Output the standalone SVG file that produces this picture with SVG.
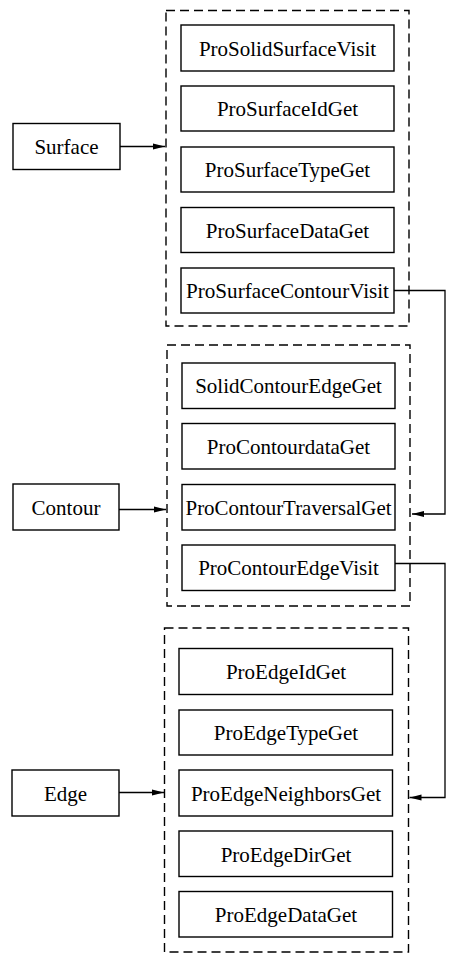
<svg xmlns="http://www.w3.org/2000/svg" width="453" height="954" viewBox="0 0 453 954">
<style>
.b{fill:#fff;stroke:#000;stroke-width:1.4}
.g{fill:none;stroke:#000;stroke-width:1.4;stroke-dasharray:9 5}
.c{fill:none;stroke:#000;stroke-width:1.3}
text{font-family:"Liberation Serif","Times New Roman",serif;font-size:21px;text-anchor:middle;fill:#000}
</style>
<defs>
<marker id="ah" markerWidth="12" markerHeight="8" refX="12" refY="4" orient="auto" markerUnits="userSpaceOnUse">
<path d="M0,1 L12,4 L0,7 Z" fill="#000"/>
</marker>
</defs>
<g id="group-surface"><rect class="g" x="166" y="10.5" width="243" height="315.5"/></g>
<g id="group-contour"><rect class="g" x="167" y="345" width="243" height="261"/></g>
<g id="group-edge"><rect class="g" x="164.5" y="628" width="244" height="324"/></g>

<g id="surface"><rect class="b" x="13" y="123.5" width="107" height="46"/><text x="66.5" y="154">Surface</text></g>
<g id="contour"><rect class="b" x="13" y="484" width="106" height="46"/><text x="66" y="514.5">Contour</text></g>
<g id="edge"><rect class="b" x="12" y="770" width="107" height="46"/><text x="65.5" y="800.5">Edge</text></g>

<g id="n1"><rect class="b" x="181" y="25" width="213" height="46"/><text x="287.5" y="55.5">ProSolidSurfaceVisit</text></g>
<g id="n2"><rect class="b" x="181" y="86" width="213" height="45"/><text x="287.5" y="116">ProSurfaceIdGet</text></g>
<g id="n3"><rect class="b" x="181" y="147" width="213" height="45"/><text x="287.5" y="177">ProSurfaceTypeGet</text></g>
<g id="n4"><rect class="b" x="181" y="207.5" width="213" height="45"/><text x="287.5" y="237.5">ProSurfaceDataGet</text></g>
<g id="n5"><rect class="b" x="181" y="268" width="213" height="45"/><text x="287.5" y="298" textLength="203" lengthAdjust="spacingAndGlyphs">ProSurfaceContourVisit</text></g>

<g id="n6"><rect class="b" x="182" y="363" width="213" height="45.5"/><text x="288.5" y="393">SolidContourEdgeGet</text></g>
<g id="n7"><rect class="b" x="182" y="423.5" width="213" height="45.5"/><text x="288.5" y="454">ProContourdataGet</text></g>
<g id="n8"><rect class="b" x="182" y="484.5" width="213" height="45.5"/><text x="288.5" y="515" textLength="206" lengthAdjust="spacingAndGlyphs">ProContourTraversalGet</text></g>
<g id="n9"><rect class="b" x="182" y="545" width="213" height="45.5"/><text x="288.5" y="575">ProContourEdgeVisit</text></g>

<g id="n10"><rect class="b" x="179" y="648.5" width="213.5" height="46"/><text x="286" y="679">ProEdgeIdGet</text></g>
<g id="n11"><rect class="b" x="179" y="710" width="213.5" height="45"/><text x="286" y="740">ProEdgeTypeGet</text></g>
<g id="n12"><rect class="b" x="179" y="770" width="213.5" height="46"/><text x="286" y="800.5">ProEdgeNeighborsGet</text></g>
<g id="n13"><rect class="b" x="179" y="831" width="213.5" height="45.5"/><text x="286" y="861.5">ProEdgeDirGet</text></g>
<g id="n14"><rect class="b" x="179" y="891.5" width="213.5" height="45.5"/><text x="286" y="922">ProEdgeDataGet</text></g>

<g id="connectors">
<path class="c" d="M120,146.5 H165" marker-end="url(#ah)"/>
<path class="c" d="M119,509.5 H166" marker-end="url(#ah)"/>
<path class="c" d="M119,792.5 H164" marker-end="url(#ah)"/>
<path class="c" d="M394,290.5 H445 V514 H412" marker-end="url(#ah)"/>
<path class="c" d="M395,563.5 H445 V797.5 H409.5" marker-end="url(#ah)"/>
</g>
</svg>
